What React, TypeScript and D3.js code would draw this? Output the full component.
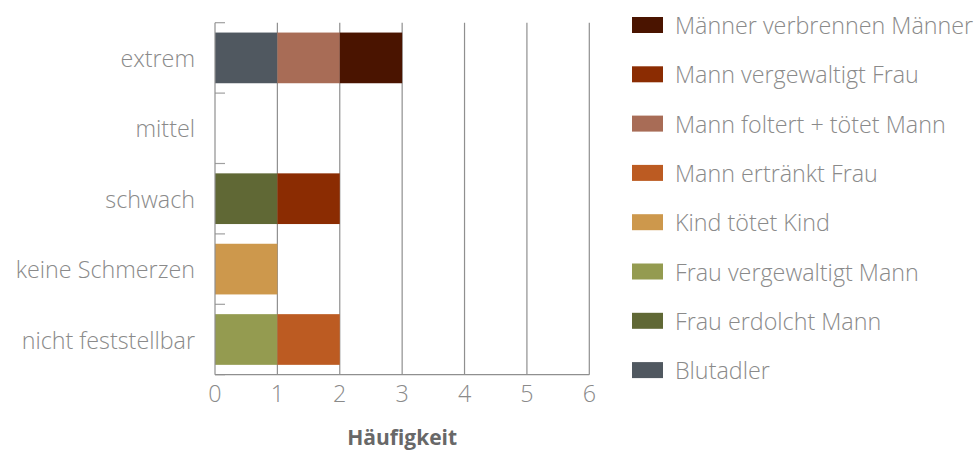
import React from "react";
import * as d3 from "d3";

const categories = ["extrem", "mittel", "schwach", "keine Schmerzen", "nicht feststellbar"];

// Stack order from left to right
const seriesNames = [
  "Blutadler",
  "Frau erdolcht Mann",
  "Frau vergewaltigt Mann",
  "Kind tötet Kind",
  "Mann ertränkt Frau",
  "Mann foltert + tötet Mann",
  "Mann vergewaltigt Frau",
  "Männer verbrennen Männer",
];

const seriesColors = [
  "#505860",
  "#606835",
  "#949b50",
  "#cd984c",
  "#bc5b22",
  "#a86c56",
  "#8b2c02",
  "#4a1400",
];

// counts per category, same order as categories
const blutadler = [1, 0, 0, 0, 0];
const frauErdolchtMann = [0, 0, 1, 0, 0];
const frauVergewaltigtMann = [0, 0, 0, 0, 1];
const kindToetetKind = [0, 0, 0, 1, 0];
const mannErtraenktFrau = [0, 0, 0, 0, 1];
const mannFoltertToetetMann = [1, 0, 0, 0, 0];
const mannVergewaltigtFrau = [0, 0, 1, 0, 0];
const maennerVerbrennenMaenner = [1, 0, 0, 0, 0];

const seriesValues = [
  blutadler,
  frauErdolchtMann,
  frauVergewaltigtMann,
  kindToetetKind,
  mannErtraenktFrau,
  mannFoltertToetetMann,
  mannVergewaltigtFrau,
  maennerVerbrennenMaenner,
];

const xTicks = [0, 1, 2, 3, 4, 5, 6];
const xTitle = "Häufigkeit";

const W = 976;
const H = 450;
const left = 215;
const right = 589.3;
const top = 22.7;
const bottom = 374.7;

const FONT = "'Open Sans', Lato, sans-serif";
const TEXT = "#8a8a8a";
const LABEL_SIZE = 23.3;

export default function App() {
  const x = d3.scaleLinear().domain([0, 6]).range([left, right]);
  const y = d3
    .scaleBand<string>()
    .domain(categories)
    .range([top, bottom])
    .paddingInner(0.28)
    .paddingOuter(0.14);

  const table = categories.map((c, i) => {
    const row: Record<string, any> = { category: c };
    seriesNames.forEach((s, j) => (row[s] = seriesValues[j][i]));
    return row;
  });
  const stacked = d3.stack<any>().keys(seriesNames)(table);

  const step = y.step();
  const tickYs = d3.range(categories.length + 1).map((i) => top + i * step);

  const legendNames = [...seriesNames].reverse();
  const legendColors = [...seriesColors].reverse();
  const legendStep = 49.3;

  return (
    <svg
      width={W}
      height={H}
      style={{ position: "absolute", left: 0, top: 0, background: "#fff" }}
      fontFamily={FONT}
    >
      {/* vertical grid */}
      {xTicks.slice(1).map((t) => (
        <line key={t} x1={x(t)} x2={x(t)} y1={top} y2={bottom} stroke="#8f8f8f" strokeWidth={1.2} />
      ))}

      {/* bars */}
      {stacked.map((layer, j) =>
        layer.map((d, i) =>
          d[1] - d[0] > 0 ? (
            <rect
              key={`${j}-${i}`}
              x={x(d[0])}
              y={y(categories[i])}
              width={x(d[1]) - x(d[0])}
              height={y.bandwidth()}
              fill={seriesColors[j]}
            />
          ) : null
        )
      )}

      {/* y axis ticks */}
      {tickYs.map((ty, i) => (
        <line key={i} x1={left} x2={left + 10} y1={ty} y2={ty} stroke="#a0a0a0" strokeWidth={1.2} />
      ))}
      <line x1={left} x2={left} y1={top} y2={bottom} stroke="#8f8f8f" strokeWidth={1.2} />
      <line x1={left} x2={right} y1={bottom} y2={bottom} stroke="#8f8f8f" strokeWidth={1.2} />

      {/* category labels */}
      {categories.map((c) => (
        <text
          key={c}
          x={195}
          y={(y(c) as number) + y.bandwidth() / 2}
          textAnchor="end"
          dominantBaseline="central"
          fontSize={LABEL_SIZE}
          fontWeight={300}
          fill={TEXT}
        >
          {c}
        </text>
      ))}

      {/* x tick labels */}
      {xTicks.map((t) => (
        <text
          key={t}
          x={x(t)}
          y={393}
          textAnchor="middle"
          dominantBaseline="central"
          fontSize={LABEL_SIZE}
          fontWeight={300}
          fill={TEXT}
        >
          {t}
        </text>
      ))}

      <text
        x={(left + right) / 2}
        y={437}
        textAnchor="middle"
        dominantBaseline="central"
        fontSize={21}
        fontWeight={700}
        fill="#686868"
      >
        {xTitle}
      </text>

      {/* legend */}
      {legendNames.map((n, i) => {
        const cy = 25 + i * legendStep;
        return (
          <g key={n}>
            <rect x={632} y={cy - 8} width={31} height={16} fill={legendColors[i]} />
            <text
              x={675}
              y={cy}
              dominantBaseline="central"
              fontSize={LABEL_SIZE}
              fontWeight={300}
              fill={TEXT}
            >
              {n}
            </text>
          </g>
        );
      })}
    </svg>
  );
}
